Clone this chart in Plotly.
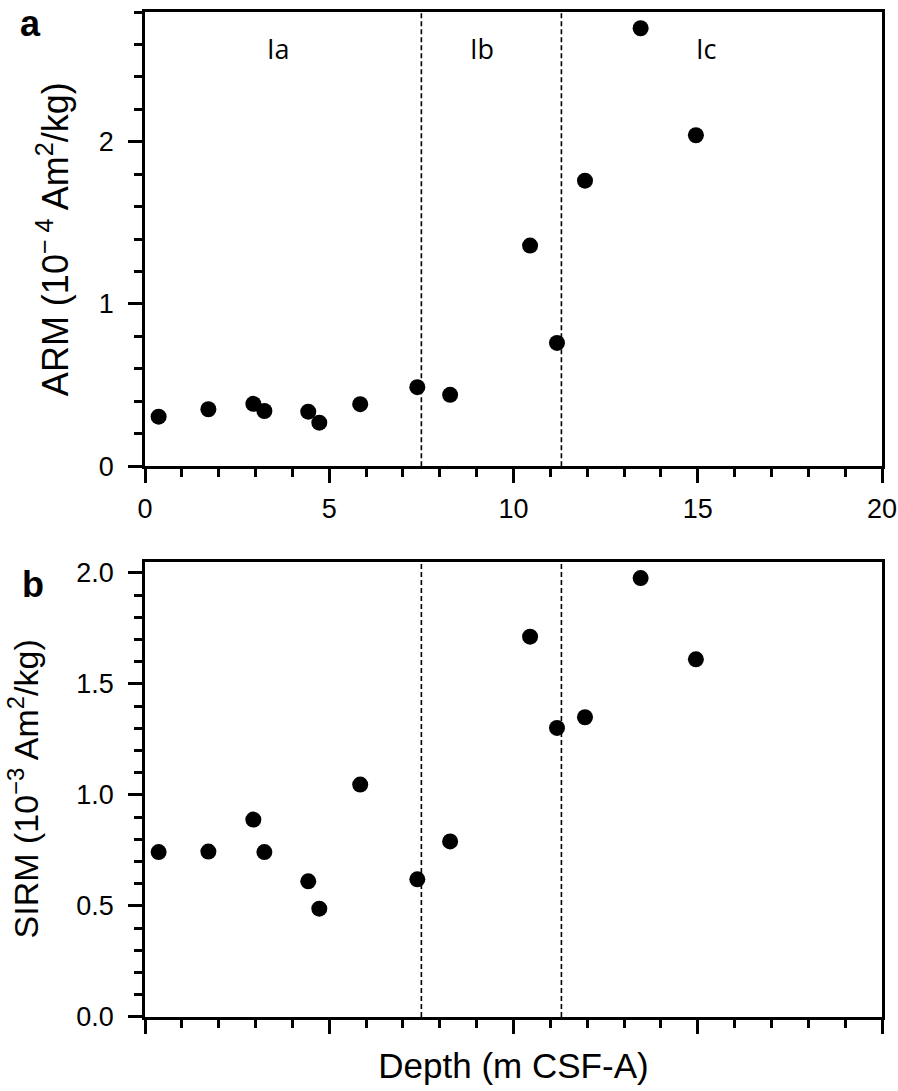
import plotly.graph_objects as go

# Data
depth = [0.37, 1.72, 2.94, 3.24, 4.43, 4.73, 5.84, 7.39, 8.28, 10.45, 11.18, 11.94, 13.45, 14.95]
arm = [0.305, 0.351, 0.384, 0.340, 0.336, 0.268, 0.382, 0.487, 0.440, 1.36, 0.76, 1.76, 2.70, 2.04]
sirm = [0.743, 0.745, 0.889, 0.743, 0.611, 0.488, 1.047, 0.620, 0.791, 1.713, 1.302, 1.350, 1.977, 1.611]
unit_bounds = [7.5, 11.3]
unit_labels = ["Ia", "Ib", "Ic"]
unit_label_x = [3.62, 9.15, 15.25]

FONT = "Liberation Sans, Arial, Helvetica, sans-serif"
LW = 2.5

fig = go.Figure()
fig.add_trace(go.Scatter(x=depth, y=arm, mode="markers", xaxis="x", yaxis="y",
                         marker=dict(size=16, color="black"), showlegend=False))
fig.add_trace(go.Scatter(x=depth, y=sirm, mode="markers", xaxis="x2", yaxis="y2",
                         marker=dict(size=16, color="black"), showlegend=False))

common_x = dict(range=[0, 20], tickvals=[0, 5, 10, 15, 20], ticks="outside", ticklen=14,
                tickwidth=LW, tickcolor="black", showline=True, linewidth=LW, linecolor="black",
                mirror=True, showgrid=False, zeroline=False, automargin=False, ticklabelstandoff=3,
                minor=dict(dtick=1, ticks="outside", ticklen=8, tickwidth=LW, tickcolor="black", showgrid=False),
                tickfont=dict(family=FONT, size=27, color="black"))
common_y = dict(ticks="outside", ticklen=14, tickwidth=LW, tickcolor="black", showline=True,
                linewidth=LW, linecolor="black", mirror=True, showgrid=False, zeroline=False,
                automargin=False,
                tickfont=dict(family=FONT, size=27, color="black"), ticklabelstandoff=9)

fig.update_layout(
    width=898, height=1091,
    margin=dict(l=144.5, r=15.5, t=12, b=74.3, autoexpand=False),
    paper_bgcolor="white", plot_bgcolor="white",
    font=dict(family=FONT, color="black"),
    xaxis=dict(domain=[0, 1], anchor="y", **common_x),
    yaxis=dict(domain=[0.5481, 1], anchor="x", range=[0, 2.8], tickvals=[0, 1, 2],
               minor=dict(dtick=0.2, ticks="outside", ticklen=8, tickwidth=LW, tickcolor="black", showgrid=False),
               **common_y),
    xaxis2=dict(domain=[0, 1], anchor="y2", showticklabels=False,
                title=dict(text="Depth (m CSF-A)", font=dict(family=FONT, size=35), standoff=21),
                **common_x),
    yaxis2=dict(domain=[0, 0.4529], anchor="x2", range=[0, 2.05], tickvals=[0, 0.5, 1.0, 1.5, 2.0],
                tickformat=".1f",
                minor=dict(dtick=0.1, ticks="outside", ticklen=8, tickwidth=LW, tickcolor="black", showgrid=False),
                **common_y),
)

shapes = []
for xr, yr in [("x", "y domain"), ("x2", "y2 domain")]:
    for b in unit_bounds:
        shapes.append(dict(type="line", xref=xr, yref=yr, x0=b, x1=b, y0=0, y1=1,
                           line=dict(color="black", width=1.6, dash="5px,3px")))
fig.update_layout(shapes=shapes)

# y-axis titles
fig.add_annotation(x=-0.1247, y=0.7741, xref="paper", yref="paper",
                   text="ARM (10<sup>− 4</sup> Am<sup>2</sup>/kg)", textangle=-90, showarrow=False,
                   font=dict(family=FONT, size=36, color="black"), xanchor="center", yanchor="middle")
fig.add_annotation(x=-0.1653, y=0.2266, xref="paper", yref="paper",
                   text="SIRM (10<sup>−3</sup> Am<sup>2</sup>/kg)", textangle=-90, showarrow=False,
                   font=dict(family=FONT, size=34, color="black"), xanchor="center", yanchor="middle")

for lab, lx in zip(unit_labels, unit_label_x):
    fig.add_annotation(x=lx, y=0.92, xref="x", yref="y domain", text=lab, showarrow=False,
                       font=dict(family="Open Sans, Noto Sans, sans-serif", size=27, color="black"),
                       xanchor="center", yanchor="middle")

fig.add_annotation(x=-0.155, y=0.989, xref="paper", yref="paper", text="<b>a</b>", showarrow=False,
                   font=dict(family=FONT, size=36, color="black"), xanchor="center", yanchor="middle")
fig.add_annotation(x=-0.152, y=0.4307, xref="paper", yref="paper", text="<b>b</b>", showarrow=False,
                   font=dict(family=FONT, size=36, color="black"), xanchor="center", yanchor="middle")

fig.write_html("out.html", config={"displayModeBar": False},
               post_script="document.body.style.margin='0px';")
